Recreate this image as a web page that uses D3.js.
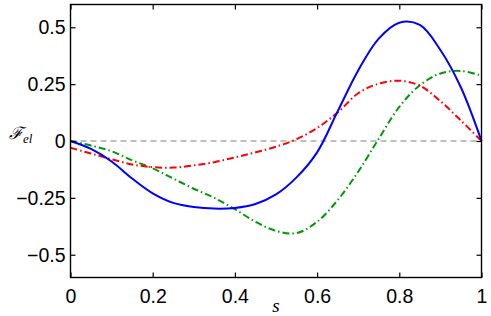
<!DOCTYPE html>
<html>
<head>
<meta charset="utf-8">
<script src="https://cdn.jsdelivr.net/npm/d3@7"></script>
<style>
html,body{margin:0;padding:0;background:#fff;}
svg{display:block;}
</style>
</head>
<body>
<svg id="chart" width="491" height="316"></svg>
<script>
const sValues = [0,0.05,0.1,0.15,0.2,0.25,0.3,0.35,0.4,0.45,0.5,0.55,0.6,0.65,0.7,0.75,0.8,0.85,0.9,0.95,1.0];
const blueSeries = [0,-0.035,-0.09,-0.165,-0.23,-0.272,-0.29,-0.297,-0.294,-0.277,-0.235,-0.16,-0.05,0.13,0.31,0.45,0.52,0.51,0.40,0.235,0];
const redSeries = [-0.03,-0.055,-0.08,-0.103,-0.115,-0.117,-0.107,-0.093,-0.072,-0.05,-0.025,0.008,0.057,0.125,0.21,0.252,0.265,0.243,0.175,0.09,0];
const greenSeries = [0,-0.02,-0.045,-0.085,-0.12,-0.165,-0.21,-0.25,-0.30,-0.355,-0.395,-0.405,-0.355,-0.26,-0.135,0.01,0.15,0.245,0.297,0.308,0.287];
const xTicks = [0,0.2,0.4,0.6,0.8,1];
const xTickLabels = ["0","0.2","0.4","0.6","0.8","1"];
const yTicks = [-0.5,-0.25,0,0.25,0.5];
const yTickLabels = ["\u22120.5","\u22120.25","0","0.25","0.5"];

const svg = d3.select("#chart");
const L = 70.5, R = 481.5, T = 4.5, B = 277.5;
const x = d3.scaleLinear().domain([0,1]).range([L,R]);
const y = d3.scaleLinear().domain([-0.6,0.6]).range([B,T]);

const font = "'Liberation Sans', Arial, Helvetica, sans-serif";

// zero reference line
svg.append("line")
  .attr("x1", x(0)).attr("x2", x(1))
  .attr("y1", y(0)).attr("y2", y(0))
  .attr("stroke", "#808080").attr("stroke-width", 1.2)
  .attr("stroke-dasharray", "6,4");

const line = d3.line()
  .x((d,i) => x(sValues[i]))
  .y(d => y(d))
  .curve(d3.curveCatmullRom.alpha(0.5));

const g = svg.append("g");
g.append("path").datum(greenSeries)
  .attr("d", line).attr("fill","none")
  .attr("stroke","#009a00").attr("stroke-width",2)
  .attr("stroke-dasharray","7,3,1.5,3");
g.append("path").datum(redSeries)
  .attr("d", line).attr("fill","none")
  .attr("stroke","#ff0000").attr("stroke-width",2)
  .attr("stroke-dasharray","7,3,1.5,3");
g.append("path").datum(blueSeries)
  .attr("d", line).attr("fill","none")
  .attr("stroke","#0000ff").attr("stroke-width",2);

// box
svg.append("rect")
  .attr("x", L).attr("y", T).attr("width", R-L).attr("height", B-T)
  .attr("fill","none").attr("stroke","#000").attr("stroke-width",1.4);

const tickLen = 5;
// x ticks (bottom and top, inward) using axis
const xAxisB = d3.axisBottom(x).tickValues(xTicks).tickSize(-tickLen).tickFormat((d,i)=>xTickLabels[i]).tickPadding(12);
const gxb = svg.append("g").attr("transform",`translate(0,${B})`).call(xAxisB);
gxb.select(".domain").remove();
gxb.selectAll("line").attr("stroke","#000").attr("stroke-width",1.2);
gxb.selectAll("text").attr("font-family",font).attr("font-size",19.5).attr("fill","#000");

const xAxisT = d3.axisTop(x).tickValues(xTicks).tickSize(-tickLen).tickFormat("");
const gxt = svg.append("g").attr("transform",`translate(0,${T})`).call(xAxisT);
gxt.select(".domain").remove();
gxt.selectAll("line").attr("stroke","#000").attr("stroke-width",1.2);

const yAxisL = d3.axisLeft(y).tickValues(yTicks).tickSize(-tickLen).tickFormat((d,i)=>yTickLabels[i]).tickPadding(5);
const gyl = svg.append("g").attr("transform",`translate(${L},0)`).call(yAxisL);
gyl.select(".domain").remove();
gyl.selectAll("line").attr("stroke","#000").attr("stroke-width",1.2);
gyl.selectAll("text").attr("font-family",font).attr("font-size",19.5).attr("fill","#000");

const yAxisR = d3.axisRight(y).tickValues(yTicks).tickSize(-tickLen).tickFormat("");
const gyr = svg.append("g").attr("transform",`translate(${R},0)`).call(yAxisR);
gyr.select(".domain").remove();
gyr.selectAll("line").attr("stroke","#000").attr("stroke-width",1.2);

// axis labels
svg.append("text")
  .attr("x", (L+R)/2).attr("y", 312)
  .attr("text-anchor","middle")
  .attr("font-family","'Liberation Serif', 'DejaVu Serif', serif")
  .attr("font-style","italic").attr("font-size",19)
  .text("s");

const yl = svg.append("text")
  .attr("x", 9).attr("y", 139)
  .attr("font-family","'DejaVu Serif', 'Liberation Serif', serif")
  .attr("font-style","italic").attr("font-size",17);
yl.append("tspan").text("\u2131");
yl.append("tspan").attr("dy",4).attr("font-size",13)
  .attr("font-family","'Liberation Serif', serif").text("el");
</script>
</body>
</html>
